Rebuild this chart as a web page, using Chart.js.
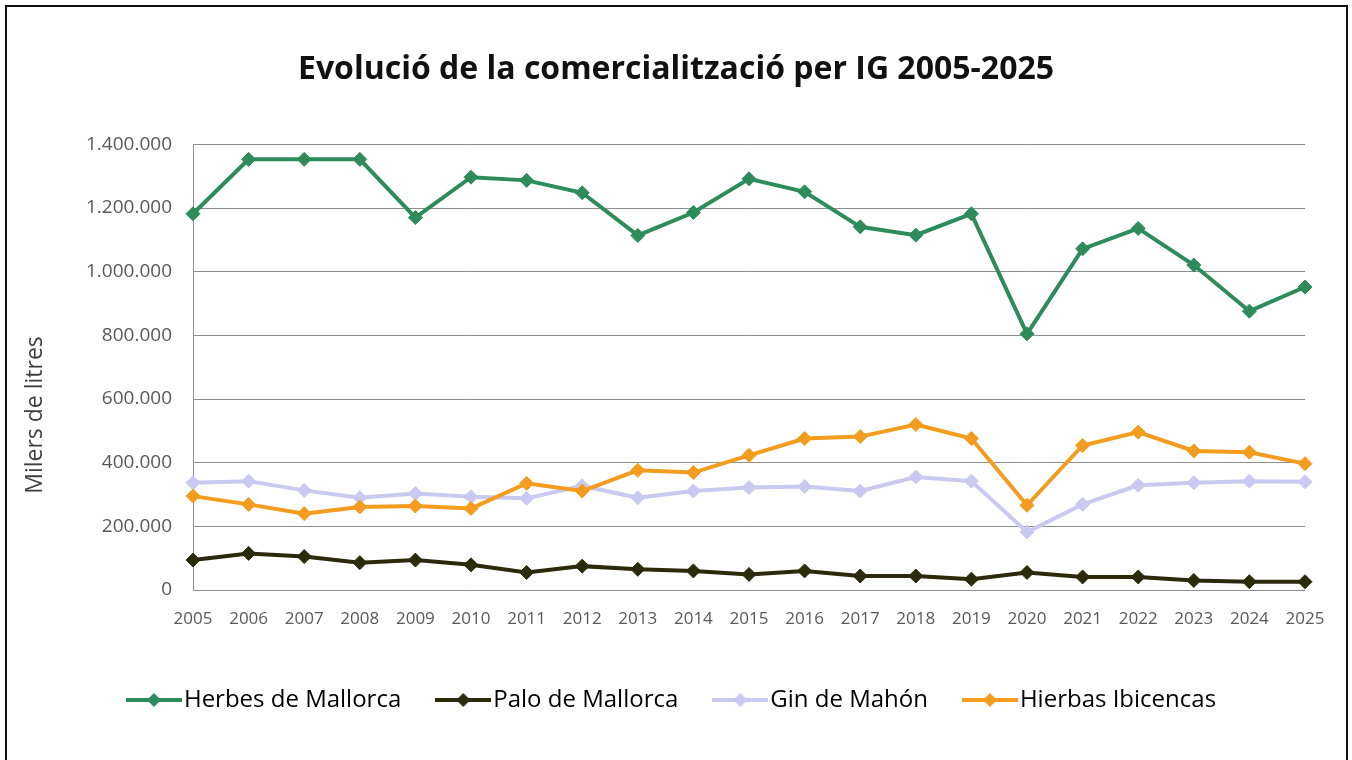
<!DOCTYPE html>
<html>
<head>
<meta charset="utf-8">
<script src="https://cdn.jsdelivr.net/npm/chart.js@4"></script>
<style>
  html, body { margin: 0; padding: 0; background: #fff; }
  #wrap { position: relative; width: 1352px; height: 760px; overflow: hidden; }
  #frame { position: absolute; left: 5px; top: 5px; width: 1339px; height: 800px; border: 2px solid #111; pointer-events: none; }
</style>
</head>
<body>
<div id="wrap">
  <canvas id="igChart" width="1352" height="760"></canvas>
  <div id="frame"></div>
</div>
<script>
const years = ['2005', '2006', '2007', '2008', '2009', '2010', '2011', '2012', '2013', '2014', '2015',
               '2016', '2017', '2018', '2019', '2020', '2021', '2022', '2023', '2024', '2025'];

const herbesMallorca = [1182000, 1353000, 1353000, 1353000, 1170000, 1297000, 1287000, 1248000, 1114000, 1186000, 1292000,
                        1251000, 1141000, 1115000, 1182000, 805000, 1072000, 1136000, 1021000, 876000, 952000];
const paloMallorca = [94000, 115000, 105000, 86000, 94000, 79000, 55000, 75000, 65000, 60000, 49000,
                      60000, 44000, 44000, 34000, 55000, 41000, 41000, 30000, 26000, 26000];
const ginMahon = [337000, 342000, 313000, 290000, 303000, 293000, 288000, 327000, 290000, 311000, 322000,
                  325000, 311000, 355000, 342000, 182000, 269000, 329000, 337000, 342000, 340000];
const hierbasIbicencas = [295000, 269000, 240000, 261000, 264000, 256000, 335000, 311000, 376000, 369000, 423000,
                          476000, 482000, 520000, 476000, 266000, 454000, 496000, 437000, 433000, 397000];

const yTicks = [0, 200000, 400000, 600000, 800000, 1000000, 1200000, 1400000];

const FONT = "'Open Sans', 'Liberation Sans', sans-serif";

// line + diamond sample used as legend symbol
function legendSymbol(color) {
    const c = document.createElement('canvas');
    c.width = 56;
    c.height = 18;
    const g = c.getContext('2d');
    g.strokeStyle = color;
    g.lineWidth = 4;
    g.beginPath();
    g.moveTo(0, 9);
    g.lineTo(56, 9);
    g.stroke();
    g.fillStyle = color;
    g.beginPath();
    g.moveTo(28, 2);
    g.lineTo(35, 9);
    g.lineTo(28, 16);
    g.lineTo(21, 9);
    g.closePath();
    g.fill();
    return c;
}

function series(label, data, color, order) {
    return {
        label: label,
        data: data,
        borderColor: color,
        backgroundColor: color,
        borderWidth: 4,
        pointStyle: 'rectRot',
        pointRadius: 7,
        pointHoverRadius: 7,
        pointBorderWidth: 1,
        pointBackgroundColor: color,
        pointBorderColor: color,
        tension: 0,
        fill: false,
        order: order,
        legendSymbol: legendSymbol(color)
    };
}

const fmt = v => String(v).replace(/\B(?=(\d{3})+(?!\d))/g, '.');

// vertical axis title, placed like the original (not centred on the axis)
const yTitle = {
    id: 'yTitle',
    afterDraw(chart) {
        const ctx = chart.ctx;
        ctx.save();
        ctx.translate(35, 415);
        ctx.rotate(-Math.PI / 2);
        ctx.fillStyle = '#404040';
        ctx.font = '23px ' + FONT;
        ctx.textAlign = 'center';
        ctx.textBaseline = 'middle';
        ctx.fillText('Milers de litres', 0, 0);
        ctx.restore();
    }
};

new Chart(document.getElementById('igChart'), {
    type: 'line',
    data: {
        labels: years,
        datasets: [
            series('Herbes de Mallorca', herbesMallorca, '#2E8B5C', 3),
            series('Palo de Mallorca', paloMallorca, '#2B2B0C', 2),
            series('Gin de Mahón', ginMahon, '#C9C9F1', 1),
            series('Hierbas Ibicencas', hierbasIbicencas, '#F39C1F', 0)
        ]
    },
    options: {
        responsive: false,
        animation: false,
        layout: { padding: { left: 10, right: 10, top: 0, bottom: 38 } },
        scales: {
            x: {
                offset: false,
                grid: { display: false, drawTicks: false },
                border: { display: false },
                ticks: { color: '#595959', font: { family: FONT, size: 17 }, padding: 19, maxRotation: 0, autoSkip: false },
                afterFit: s => { s.height = 54; }
            },
            y: {
                min: 0,
                max: 1400000,
                afterBuildTicks: s => { s.ticks = yTicks.map(v => ({ value: v })); },
                grid: { color: '#8E8E8E', lineWidth: 1, drawTicks: false },
                border: { display: true, color: '#8E8E8E', width: 1 },
                ticks: { color: '#595959', font: { family: FONT, size: 19 }, padding: 21, callback: v => fmt(v) },
                afterFit: s => { s.width = 183; }
            },
            yRight: {
                position: 'right',
                display: true,
                grid: { display: false, drawTicks: false },
                border: { display: false },
                ticks: { display: false },
                afterFit: s => { s.width = 37; }
            }
        },
        plugins: {
            title: {
                display: true,
                text: 'Evolució de la comercialització per IG 2005-2025',
                color: '#111',
                font: { family: FONT, size: 32, weight: 'bold' },
                padding: { top: 51, bottom: 55 }
            },
            legend: {
                position: 'bottom',
                labels: {
                    color: '#404040',
                    font: { family: FONT, size: 24 },
                    usePointStyle: true,
                    pointStyleWidth: 36,
                    padding: 44,
                    sort: (a, b) => a.datasetIndex - b.datasetIndex,
                    generateLabels: chart => chart.data.datasets.map((ds, i) => ({
                        text: ds.label,
                        fillStyle: ds.borderColor,
                        strokeStyle: ds.borderColor,
                        lineWidth: 0,
                        pointStyle: ds.legendSymbol,
                        hidden: false,
                        datasetIndex: i
                    }))
                }
            },
            tooltip: { enabled: false }
        }
    },
    plugins: [yTitle]
});
</script>
</body>
</html>
